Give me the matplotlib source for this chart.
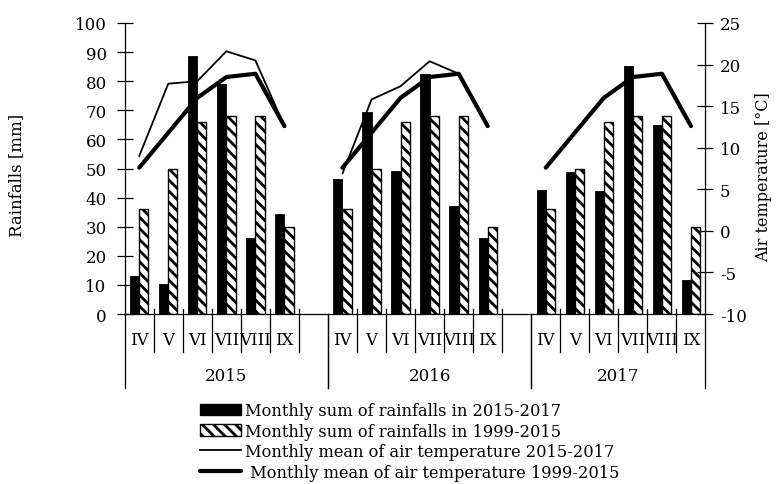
import numpy as np
import matplotlib
matplotlib.use("Agg")
import matplotlib.pyplot as plt
from matplotlib.patches import Patch
from matplotlib.lines import Line2D

plt.rcParams['font.family'] = ['DejaVu Serif']
plt.rcParams['hatch.linewidth'] = 2.0
plt.rcParams['axes.unicode_minus'] = False

# --- data -------------------------------------------------------------
years = ['2015', '2016', '2017']
months = ['IV', 'V', 'VI', 'VII', 'VIII', 'IX']

# monthly sum of rainfalls [mm], 2015-2017 (per year, IV..IX)
rain_2015 = [13.0, 10.2, 88.8, 79.1, 26.2, 34.5]
rain_2016 = [46.4, 69.3, 49.2, 82.5, 37.0, 26.2]
rain_2017 = [42.6, 48.9, 42.4, 85.3, 64.8, 11.7]

# long-term monthly sum of rainfalls [mm], 1999-2015
rain_lt_2015 = [36.0, 50.0, 66.0, 68.0, 68.0, 30.0]
rain_lt_2016 = [36.0, 50.0, 66.0, 68.0, 68.0, 30.0]
rain_lt_2017 = [36.0, 50.0, 66.0, 68.0, 68.0, 30.0]

# monthly mean air temperature [°C], 2015-2017 (no values for 2017)
temp_2015 = [9.0, 17.7, 18.0, 21.6, 20.5, 12.6]
temp_2016 = [6.9, 15.8, 17.4, 20.4, 18.9, 12.6]
temp_2017 = [np.nan] * 6

# long-term monthly mean air temperature [°C], 1999-2015
temp_lt_2015 = [7.6, 11.8, 16.0, 18.5, 18.9, 12.6]
temp_lt_2016 = [7.6, 11.8, 16.0, 18.5, 18.9, 12.6]
temp_lt_2017 = [7.6, 11.8, 16.0, 18.5, 18.9, 12.6]

rain = [rain_2015, rain_2016, rain_2017]
rain_lt = [rain_lt_2015, rain_lt_2016, rain_lt_2017]
temp = [temp_2015, temp_2016, temp_2017]
temp_lt = [temp_lt_2015, temp_lt_2016, temp_lt_2017]

# --- layout -----------------------------------------------------------
W, H = 776, 485
FS = 12
fig = plt.figure(figsize=(W / 100, H / 100), dpi=100)
ax = fig.add_axes([124.7 / W, 170 / H, (705.5 - 124.7) / W, 291 / H])
ax2 = ax.twinx()

group = len(months) + 1          # one empty slot after each year
n_slots = group * (len(years) - 1) + len(months)
bw = 0.316

for yi in range(len(years)):
    centers = yi * group + np.arange(len(months)) + 0.5
    ax.bar(centers - bw / 2, rain[yi], width=bw, color='black',
           edgecolor='black', linewidth=0.6, zorder=2)
    ax.bar(centers + bw / 2, rain_lt[yi], width=bw, color='white',
           edgecolor='black', linewidth=1.0, hatch='\\\\\\', zorder=2)
    ax2.plot(centers, temp[yi], color='black', lw=1.3,
             solid_joinstyle='round', solid_capstyle='round', zorder=3)
    ax2.plot(centers, temp_lt[yi], color='black', lw=3.0,
             solid_joinstyle='round', solid_capstyle='round', zorder=3)

ax.set_xlim(0, n_slots)
ax.set_ylim(0, 100)
ax2.set_ylim(-10, 25)
ax.set_yticks(np.arange(0, 101, 10))
ax2.set_yticks(np.arange(-10, 26, 5))

for a in (ax, ax2):
    a.spines['top'].set_visible(False)
    a.set_xticks([])
ax.spines['right'].set_visible(False)
ax2.spines['left'].set_visible(False)
ax2.spines['bottom'].set_visible(False)
for s in ('left', 'bottom'):
    ax.spines[s].set_linewidth(0.9)
ax2.spines['right'].set_linewidth(0.9)

ax.tick_params(axis='y', direction='inout', length=11, width=0.9,
               pad=7.5, labelsize=FS)
ax2.tick_params(axis='y', direction='inout', length=11, width=0.9,
                pad=5, labelsize=FS)

# category separators and labels below the axis
tr = ax.get_xaxis_transform()
for yi in range(len(years)):
    start = yi * group
    end = min(start + group, n_slots)
    for b in range(start + 1, end):
        ax.plot([b, b], [0.017, -0.131], color='black', lw=0.9,
                transform=tr, clip_on=False)
    for b in (start, end):
        ax.plot([b, b], [0.0, -0.254], color='black', lw=0.9,
                transform=tr, clip_on=False)
    for mi, m in enumerate(months):
        ax.text(start + mi + 0.5, -0.086, m, transform=tr, ha='center',
                va='center', fontsize=FS)
    ax.text((start + end) / 2, -0.213, years[yi], transform=tr,
            ha='center', va='center', fontsize=FS)

fig.text(17 / W, 1 - 175 / H, 'Rainfalls [mm]', rotation=90,
         ha='center', va='center', fontsize=FS)
fig.text(764 / W, 1 - 177 / H, 'Air temperature [°C]', rotation=90,
         ha='center', va='center', fontsize=11.5)

handles = [
    Patch(facecolor='black', edgecolor='black'),
    Patch(facecolor='white', edgecolor='black', hatch='\\\\\\'),
    Line2D([], [], color='black', lw=1.3),
    Line2D([], [], color='black', lw=3.0, solid_capstyle='round'),
]
labels = [
    'Monthly sum of rainfalls in 2015-2017',
    'Monthly sum of rainfalls in 1999-2015',
    'Monthly mean of air temperature 2015-2017',
    ' Monthly mean of air temperature 1999-2015',
]
fig.legend(handles, labels, loc='upper left',
           bbox_to_anchor=(200 / W, 1 - 403 / H), frameon=False,
           fontsize=11.7, handlelength=2.5, handletextpad=0.25,
           labelspacing=0.22, borderpad=0, borderaxespad=0)

fig.savefig('out.png', dpi=100)
